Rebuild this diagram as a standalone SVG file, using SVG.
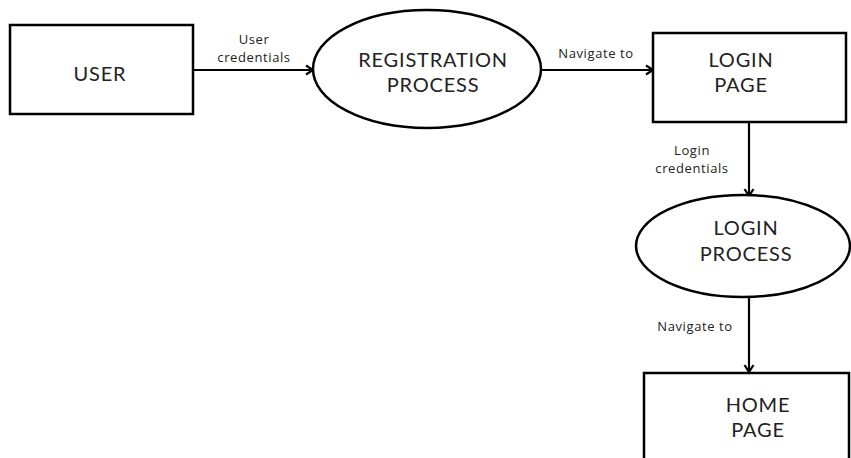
<svg xmlns="http://www.w3.org/2000/svg" width="851" height="458" viewBox="0 0 851 458">
<style>
.shape{fill:#fff;stroke:#000;stroke-width:2.5}
.big{font-family:Lato,"Open Sans",sans-serif;font-size:20px;letter-spacing:0.8px;fill:#222;text-anchor:middle}
.small{font-family:"Open Sans",sans-serif;font-size:13px;letter-spacing:0.6px;fill:#222;text-anchor:middle}
.conn{stroke:#000;stroke-width:2.2;fill:none;marker-end:url(#arr)}
</style>
<defs>
<marker id="arr" markerWidth="12" markerHeight="12" viewBox="0 0 12 12" refX="10" refY="6" orient="auto" markerUnits="userSpaceOnUse">
<polyline points="3,1.5 10,6 3,10.5" fill="none" stroke="#000" stroke-width="2.2"/>
</marker>
</defs>
<rect width="851" height="458" fill="#fff"/>
<g id="connectors">
<line class="conn" x1="193" y1="70" x2="313" y2="70"/>
<line class="conn" x1="541" y1="70" x2="653" y2="70"/>
<line class="conn" x1="749" y1="122" x2="749" y2="196"/>
<line class="conn" x1="749" y1="298" x2="749" y2="372"/>
<text class="small" x="254" y="44">User</text>
<text class="small" x="254" y="62">credentials</text>
<text class="small" x="596" y="58">Navigate to</text>
<text class="small" x="692" y="155">Login</text>
<text class="small" x="692" y="173">credentials</text>
<text class="small" x="695" y="331">Navigate to</text>
</g>
<g id="user">
<rect class="shape" x="10" y="25" width="183" height="89"/>
<text class="big" x="100" y="81">USER</text>
</g>
<g id="registration">
<ellipse class="shape" cx="427" cy="69" rx="114" ry="59"/>
<text class="big" x="433" y="67">REGISTRATION</text>
<text class="big" x="433" y="92">PROCESS</text>
</g>
<g id="loginpage">
<rect class="shape" x="653" y="33" width="193" height="89"/>
<text class="big" x="741" y="67">LOGIN</text>
<text class="big" x="741" y="92">PAGE</text>
</g>
<g id="loginprocess">
<ellipse class="shape" cx="743" cy="246" rx="107" ry="51"/>
<text class="big" x="746" y="235">LOGIN</text>
<text class="big" x="746" y="261">PROCESS</text>
</g>
<g id="homepage">
<rect class="shape" x="644" y="373" width="205" height="100"/>
<text class="big" x="758" y="412">HOME</text>
<text class="big" x="758" y="437">PAGE</text>
</g>
</svg>
